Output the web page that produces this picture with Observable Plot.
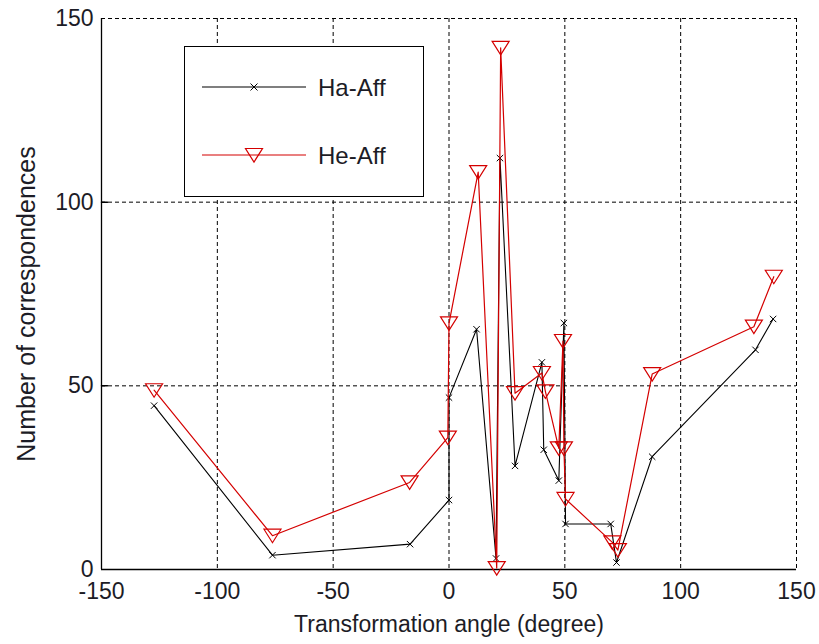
<!DOCTYPE html>
<html><head><meta charset="utf-8">
<script src="https://cdn.jsdelivr.net/npm/d3@7"></script>
<script src="https://cdn.jsdelivr.net/npm/@observablehq/plot@0.6"></script>
<style>
body{margin:0;background:#fff;}
#wrap{position:relative;width:819px;height:644px;}
#legend{position:absolute;left:184px;top:46px;width:240px;height:151px;border:1.2px solid #000;background:#fff;box-sizing:border-box;}
</style></head><body><div id="wrap"></div>
<script>
const seriesNames = ["Ha-Aff", "He-Aff"];
const seriesColors = ["#000000", "#d40000"];
const haX = [-127.3, -76.2, -16.8, 0, 0, 11.9, 20.3, 22.0, 28.5, 40.1, 40.9, 47.4, 49.6, 50.3, 69.8, 72.3, 87.7, 132.3, 139.9];
const haY = [44.6, 3.9, 6.9, 18.9, 46.8, 65.4, 3, 112, 28.2, 56.4, 32.6, 24.2, 67.1, 12.4, 12.4, 1.9, 30.7, 59.8, 68.2];
const heX = [-127.3, -76.2, -17.0, -0.5, 0, 12.6, 20.6, 22.3, 28.5, 40.1, 41.6, 47.4, 49.2, 49.6, 50.3, 70.5, 72.9, 87.7, 131.6, 140.2];
const heY = [48.8, 9.2, 23.7, 35.9, 67.0, 108.2, 0.4, 142, 48, 53.5, 48.5, 33, 62.2, 33, 19.2, 7.4, 5.3, 53.2, 66.1, 79.7];
const xTicks = [-150, -100, -50, 0, 50, 100, 150];
const yTicks = [0, 50, 100, 150];
const xLabel = "Transformation angle (degree)";
const yLabel = "Number of correspondences";

const ha = haX.map((x, i) => ({x, y: haY[i]}));
const he = heX.map((x, i) => ({x, y: heY[i]}));

const triDown = {draw(ctx) { ctx.moveTo(-8.5, -6.5); ctx.lineTo(8.5, -6.5); ctx.lineTo(0, 7); ctx.closePath(); }};
const tickShape = {draw(ctx, l) { ctx.moveTo(0, 0); ctx.lineTo(0, -l); }};
const FONT = "Liberation Sans, Arial, Helvetica, sans-serif";
const TXT = "#1c1c26";
const xMin = xTicks[0], yMin = yTicks[0];
const fmt = d => String(d);

const chart = Plot.plot({
  width: 819, height: 644,
  marginLeft: 101, marginRight: 23, marginTop: 18, marginBottom: 75,
  style: {fontFamily: FONT, fontSize: "23px", color: TXT, background: "white", overflow: "visible"},
  x: {domain: [xTicks[0], xTicks[xTicks.length - 1]]},
  y: {domain: [yTicks[0], yTicks[yTicks.length - 1]]},
  marks: [
    Plot.ruleX(xTicks.slice(1), {stroke: "#000", strokeWidth: 1, strokeDasharray: "4,3"}),
    Plot.ruleY(yTicks.slice(1), {stroke: "#000", strokeWidth: 1, strokeDasharray: "4,3"}),
    Plot.ruleX([xMin], {stroke: "#000", strokeWidth: 1.3}),
    Plot.ruleY([yMin], {stroke: "#000", strokeWidth: 1.3}),
    Plot.vector(yTicks.slice(1, -1), {x: () => xMin, y: d => d, length: 6, rotate: 90, anchor: "start", shape: tickShape, stroke: "#000"}),
    Plot.line(ha, {x: "x", y: "y", stroke: seriesColors[0], strokeWidth: 1.1}),
    Plot.dot(ha, {x: "x", y: "y", symbol: "times", r: 3, stroke: seriesColors[0], strokeWidth: 1}),
    Plot.line(he, {x: "x", y: "y", stroke: seriesColors[1], strokeWidth: 1.2}),
    Plot.dot(he, {x: "x", y: "y", symbol: triDown, stroke: seriesColors[1], fill: "none", strokeWidth: 1.2}),
    Plot.axisX(xTicks, {tickSize: 0, tickPadding: 13, label: null, fontSize: 23, tickFormat: fmt}),
    Plot.axisY(yTicks, {tickSize: 0, tickPadding: 8, label: null, fontSize: 23, tickFormat: fmt}),
    Plot.text([xLabel], {frameAnchor: "bottom", dy: 55, text: d => d, lineAnchor: "middle", textAnchor: "middle", fontSize: 23, fill: TXT}),
    Plot.text([yLabel], {frameAnchor: "left", dx: -75, dy: 10, text: d => d, rotate: -90, lineAnchor: "middle", textAnchor: "middle", fontSize: 25, fill: TXT})
  ]
});
document.getElementById("wrap").appendChild(chart);

// legend
const leg = document.createElement("div");
leg.id = "legend";
const ns = "http://www.w3.org/2000/svg";
const svg = document.createElementNS(ns, "svg");
svg.setAttribute("width", 238); svg.setAttribute("height", 149);
svg.style.overflow = "visible";
seriesNames.forEach((name, i) => {
  const yy = i === 0 ? 40 : 108;
  const g = document.createElementNS(ns, "g");
  const ln = document.createElementNS(ns, "line");
  ln.setAttribute("x1", 17); ln.setAttribute("x2", 121); ln.setAttribute("y1", yy); ln.setAttribute("y2", yy);
  ln.setAttribute("stroke", seriesColors[i]); ln.setAttribute("stroke-width", i ? 1.2 : 1.1);
  g.appendChild(ln);
  const mk = document.createElementNS(ns, "path");
  if (i === 0) mk.setAttribute("d", `M${69-3.5},${yy-3.5}L${69+3.5},${yy+3.5}M${69-3.5},${yy+3.5}L${69+3.5},${yy-3.5}`);
  else mk.setAttribute("d", `M${69-8.5},${yy-6.5}L${69+8.5},${yy-6.5}L69,${yy+7}Z`);
  mk.setAttribute("stroke", seriesColors[i]); mk.setAttribute("fill", "none"); mk.setAttribute("stroke-width", i ? 1.2 : 1);
  g.appendChild(mk);
  const t = document.createElementNS(ns, "text");
  t.setAttribute("x", 133); t.setAttribute("y", yy); t.setAttribute("dy", "0.36em");
  t.setAttribute("font-family", FONT); t.setAttribute("font-size", 24); t.setAttribute("fill", TXT);
  t.textContent = name;
  g.appendChild(t);
  svg.appendChild(g);
});
leg.appendChild(svg);
document.getElementById("wrap").appendChild(leg);
</script></body></html>
